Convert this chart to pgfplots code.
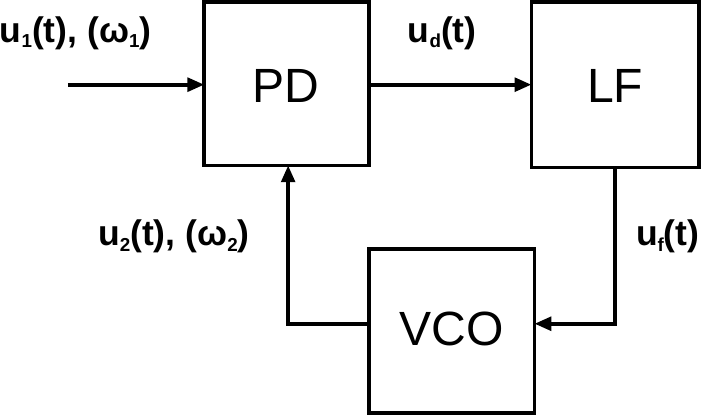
\documentclass[border=0pt]{standalone}
\usepackage{fontspec}
\setmainfont{Liberation Sans}
\usepackage{pgfplots}
\pgfplotsset{compat=1.18}
\usetikzlibrary{arrows.meta}
\begin{document}
\begin{tikzpicture}
\begin{axis}[width=701bp,height=416bp,scale only axis,hide axis,clip=false,
  xmin=0,xmax=701,ymin=0,ymax=416,y dir=reverse]
\tikzset{ln/.style={line width=3.5bp},ar/.style={ln,-{Triangle[length=16bp,width=13bp]}}}
\draw[ln] (axis cs:205,18) rectangle (axis cs:362,174);
\draw[ln] (axis cs:517,18) rectangle (axis cs:677,176);
\draw[ln] (axis cs:362,254) rectangle (axis cs:520,410);
\draw[ar] (axis cs:75,97) -- (axis cs:205,97);
\draw[ar] (axis cs:362,97) -- (axis cs:517,97);
\draw[ar] (axis cs:597,176) -- (axis cs:597,325) -- (axis cs:520,325);
\draw[ar] (axis cs:362,325) -- (axis cs:285,325) -- (axis cs:285,174);
\node[font=\fontsize{46}{50}\selectfont] at (axis cs:283,98) {PD};
\node[font=\fontsize{46}{50}\selectfont] at (axis cs:597,98) {LF};
\node[font=\fontsize{46}{50}\selectfont] at (axis cs:441,330) {VCO};
\def\s#1{\raisebox{-0.15em}{\fontsize{18}{20}\selectfont #1}}
\tikzset{lb/.style={font=\fontsize{34}{38}\selectfont\bfseries,inner sep=0pt}}
\node[lb,anchor=west] at (axis cs:10,48) {u\s{1}(t), (ω\s{1})};
\node[lb] at (axis cs:432,48) {u\s{d}(t)};
\node[lb] at (axis cs:647,242) {u\s{f}(t)};
\node[lb] at (axis cs:176,242) {u\s{2}(t), (ω\s{2})};
\end{axis}
\end{tikzpicture}
\end{document}
